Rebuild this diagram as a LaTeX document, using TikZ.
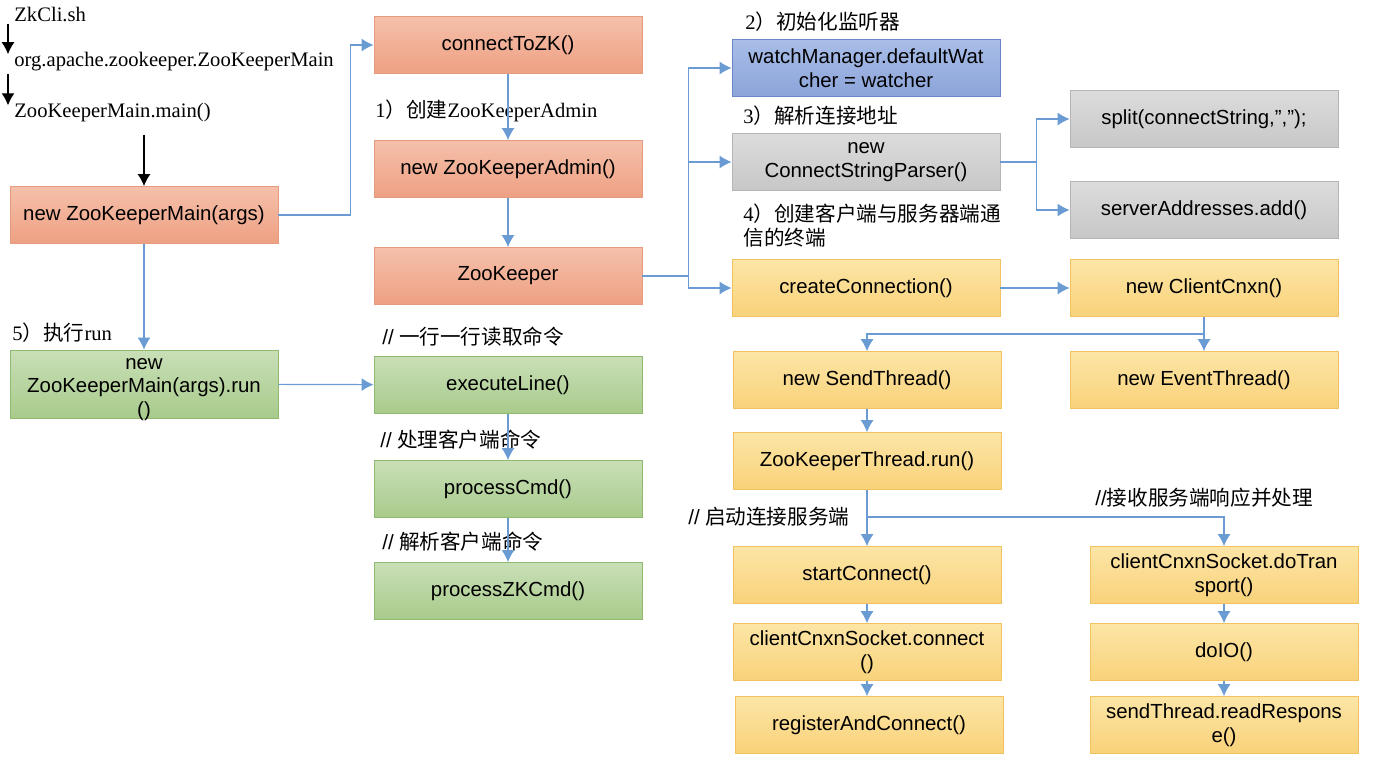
\documentclass[tikz,border=0pt]{standalone}
\usepackage{fontspec}
\setmainfont{Liberation Serif}
\setsansfont{Liberation Sans}
\newfontfamily\cjk{Noto Sans CJK SC}
\usetikzlibrary{arrows.meta}
\definecolor{linkblue}{HTML}{6A9BD3}
\definecolor{orangetop}{HTML}{F5C0AA}
\definecolor{orangebot}{HTML}{EEA083}
\definecolor{orangeline}{HTML}{E59B7E}
\definecolor{bluetop}{HTML}{A8BDE7}
\definecolor{bluebot}{HTML}{8CA4DA}
\definecolor{blueline}{HTML}{6A88C8}
\definecolor{greytop}{HTML}{DCDCDC}
\definecolor{greybot}{HTML}{C7C7C7}
\definecolor{greyline}{HTML}{B5B5B5}
\definecolor{yellowtop}{HTML}{FCE5A6}
\definecolor{yellowbot}{HTML}{F9D27A}
\definecolor{yellowline}{HTML}{F2C260}
\definecolor{greentop}{HTML}{C9DFB7}
\definecolor{greenbot}{HTML}{A8CB8B}
\definecolor{greenline}{HTML}{8FBA6F}
\tikzset{>={Latex[length=6pt,width=6.5pt]}}
\tikzset{
  box/.style={draw, minimum width=134pt, minimum height=28.5pt, inner sep=1pt,
    align=center, font=\sffamily\fontsize{10.2}{11.8}\selectfont},
  orangebox/.style={box, draw=orangeline, top color=orangetop, bottom color=orangebot},
  bluebox/.style={box, draw=blueline, top color=bluetop, bottom color=bluebot},
  greybox/.style={box, draw=greyline, top color=greytop, bottom color=greybot},
  yellowbox/.style={box, draw=yellowline, top color=yellowtop, bottom color=yellowbot},
  greenbox/.style={box, draw=greenline, top color=greentop, bottom color=greenbot},
  lbl/.style={anchor=west, inner sep=0pt, align=left, font=\fontsize{10.3}{12}\selectfont},
  link/.style={draw=linkblue, line width=0.6pt, ->},
  blackarrow/.style={draw=black, line width=0.6pt, ->}
}
\begin{document}
\begin{tikzpicture}[x=0.5pt,y=-0.5pt]
\useasboundingbox (0,0) rectangle (1384,762);
% startup chain
\node[lbl] (zkcli) at (14,14) {ZkCli.sh};
\node[lbl] (mainclass) at (14,62) {org.apache.zookeeper.ZooKeeperMain};
\node[lbl] (mainfn) at (14,113) {ZooKeeperMain.main()};
\node[orangebox] (zkmain) at (144,215) {new ZooKeeperMain(args)};
\node[orangebox] (connect) at (508,45) {connectToZK()};
\node[orangebox] (admin) at (508,169) {new ZooKeeperAdmin()};
\node[orangebox] (zk) at (508,276) {ZooKeeper};
\node[lbl] (step1) at (375,111) {1{\cjk ）创建}ZooKeeperAdmin};
% client side
\node[lbl] (step2) at (745,22) {2{\cjk ）初始化监听器}};
\node[bluebox] (watcher) at (866,68) {watchManager.defaultWat\\cher = watcher};
\node[lbl] (step3) at (743,116) {3{\cjk ）解析连接地址}};
\node[greybox] (parser) at (866,162) {new\\ConnectStringParser()};
\node[greybox] (split) at (1204,119) {split(connectString,",");};
\node[greybox] (addr) at (1204,210) {serverAddresses.add()};
\node[lbl] (step4) at (743,226) {4{\cjk ）创建客户端与服务器端通}\\{\cjk 信的终端}};
\node[yellowbox] (create) at (866,288) {createConnection()};
\node[yellowbox] (cnxn) at (1204,288) {new ClientCnxn()};
\node[yellowbox] (send) at (867,380) {new SendThread()};
\node[yellowbox] (event) at (1204,380) {new EventThread()};
\node[yellowbox] (zkthread) at (867,461) {ZooKeeperThread.run()};
\node[lbl] (startnote) at (688,517) {{\sffamily //} {\cjk 启动连接服务端}};
\node[lbl] (recvnote) at (1095,498) {{\sffamily //}{\cjk 接收服务端响应并处理}};
\node[yellowbox] (start) at (867,575) {startConnect()};
\node[yellowbox] (sockconn) at (867,652) {clientCnxnSocket.connect\\()};
\node[yellowbox] (register) at (869,725) {registerAndConnect()};
\node[yellowbox] (transport) at (1224,575) {clientCnxnSocket.doTran\\sport()};
\node[yellowbox] (doio) at (1224,652) {doIO()};
\node[yellowbox] (readresp) at (1224,725) {sendThread.readRespons\\e()};
% command loop
\node[lbl] (step5) at (12,333) {5{\cjk ）执行}run};
\node[greenbox, minimum height=34pt] (run) at (144,384) {\raisebox{-4.5pt}[0pt][0pt]{\begin{tabular}{@{}c@{}}new\\ZooKeeperMain(args).run\\()\end{tabular}}};
\node[lbl] (execnote) at (382,337) {{\sffamily //} {\cjk 一行一行读取命令}};
\node[greenbox] (exec) at (508,385) {executeLine()};
\node[lbl] (cmdnote) at (380,440) {{\sffamily //} {\cjk 处理客户端命令}};
\node[greenbox] (cmd) at (508,489) {processCmd()};
\node[lbl] (zkcmdnote) at (382,542) {{\sffamily //} {\cjk 解析客户端命令}};
\node[greenbox] (zkcmd) at (508,591) {processZKCmd()};

\draw[blackarrow] ([xshift=-3pt,yshift=-1pt]zkcli.south west) -- ([xshift=-3pt,yshift=-1pt]mainclass.north west);
\draw[blackarrow] ([xshift=-3pt,yshift=-1pt]mainclass.south west) -- ([xshift=-3pt,yshift=-1pt]mainfn.north west);
\draw[blackarrow] ([yshift=-6pt]zkmain.north |- mainfn.south) -- (zkmain.north);

\draw[link] (zkmain.east) -- ++(72,0) |- (connect.west);
\draw[link] (connect) -- (admin);
\draw[link] (admin) -- (zk);
\draw[link] (zk.east) -- ++(46,0) coordinate (zkfork) |- (watcher.west);
\draw[link] (zkfork) |- (parser.west);
\draw[link] (zkfork) |- (create.west);
\draw[link] (parser.east) -- ++(36,0) coordinate (pfork) |- (split.west);
\draw[link] (pfork) |- (addr.west);
\draw[link] (create) -- (cnxn);
\draw[link] (cnxn.south) -- ++(0,17) coordinate (cfork) -| (send.north);
\draw[link] (cfork) -- (event.north);
\draw[link] (send) -- (zkthread);
\draw[link] (zkthread.south) -- ++(0,27) coordinate (tfork) -- (start.north);
\draw[link] (tfork) -| (transport.north);
\draw[link] (start) -- (sockconn);
\draw[link] (sockconn.south) -- (sockconn.south |- register.north);
\draw[link] (transport) -- (doio);
\draw[link] (doio) -- (readresp);
\draw[link] (zkmain) -- (run);
\draw[link] (run) -- (exec);
\draw[link] (exec) -- (cmd);
\draw[link] (cmd) -- (zkcmd);
\end{tikzpicture}
\end{document}
